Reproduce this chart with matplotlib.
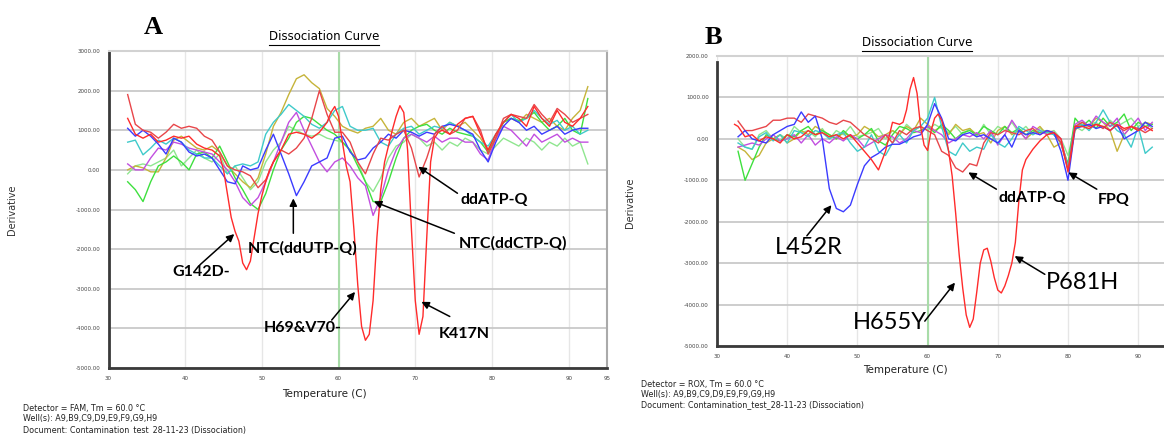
import numpy as np
import matplotlib
matplotlib.use('Agg')
import matplotlib.pyplot as plt
from matplotlib.lines import Line2D

# ---------------- panel A (FAM) ----------------
temp_a = np.arange(32.5, 93, 1.0)

# mutation sample (finer sampling around the dips)
a_mut_t = [32.5, 33.5, 34.5, 35.5, 36.5, 37.5, 38.5, 39.5, 40.5, 41.5, 42.5, 43.5, 44.5,
           45, 45.5, 46, 46.5, 47, 47.5, 48, 48.5, 49, 49.5, 50, 50.5, 51, 51.5, 52, 52.5,
           53.5, 54.5, 55.5, 56.5, 57.5, 58.5,
           59, 59.5, 60, 60.5, 61, 61.5, 62, 62.5, 63, 63.5, 64, 64.5, 65, 65.5, 66, 66.5,
           67, 67.5, 68, 68.5, 69, 69.5, 70, 70.5, 71, 71.5, 72, 72.5, 73, 73.5,
           74.5, 75.5, 76.5, 77.5, 78.5, 79.5, 80.5, 81.5, 82.5, 83.5, 84.5, 85.5, 86.5,
           87.5, 88.5, 89.5, 90.5, 91.5, 92.5]
a_mut_v = [1300, 900, 800, 900, 700, 750, 850, 800, 850, 650, 550, 500, 350,
           0, -600, -1200, -1550, -1800, -2350, -2520, -2300, -1700, -1100, -650, -300, 0, 200, 350, 500,
           900, 950, 900, 800, 950, 1200,
           1450, 1600, 1350, 700, 100, -300, -1500, -2900, -3950, -4300, -4150, -3300, -1700, -500, 200, 600,
           1000, 1350, 1620, 1450, 500, -1500, -3300, -4150, -3700, -1700, 200, 800, 950, 1000,
           900, 1150, 1300, 1350, 900, 500, 900, 1200, 1400, 1300, 1100, 1600, 1300,
           1100, 1500, 1200, 1100, 1300, 1600]

a_red2 = [1900, 1150, 1000, 950, 800, 950, 1150, 1050, 1100, 1050,
          850, 750, 450, 100, 0, -50, -150, -450, -250, 200,
          500, 400, 550, 800, 1300, 2000, 1400, 950, 950, 700,
          200, -100, 400, 800, 750, 900, 1000, 550, -180, 300,
          900, 1100, 900, 1000, 1300, 1350, 1000, 400, 800, 1300,
          1400, 1350, 1300, 1650, 1400, 1200, 1550, 1400, 1200, 1300, 1400]
a_blue = [1050, 850, 1000, 850, 650, 400, 800, 700, 450, 350,
          400, 300, 0, -300, -350, 100, 0, 50, 500, 900,
          400, -100, -650, -300, 100, 200, 300, 800, 850, 450,
          250, 300, 550, 700, 900, 800, 1000, 950, 850, 950,
          900, 1100, 1150, 1100, 1000, 900, 500, 200, 700, 1100,
          1300, 1200, 1000, 1100, 900, 1000, 1100, 900, 1000, 1050, 1050]
a_cyan = [700, 750, 380, 550, 750, 650, 800, 700, 500, 400,
          300, 300, 100, -100, 100, 150, 100, 200, 900, 1200,
          1400, 1650, 1500, 1350, 1150, 1050, 1200, 1500, 1600, 1100,
          1000, 1000, 1050, 700, 600, 900, 1050, 1100, 900, 1000,
          1100, 1050, 1200, 1100, 1000, 850, 700, 600, 900, 1200,
          1400, 1200, 1300, 1500, 1300, 1150, 1250, 1000, 1100, 900, 1000]
a_magenta = [150, 0, 0, 300, 550, 500, 700, 650, 550, 500,
             450, 400, 200, 0, -300, -700, -900, -700, -300, 200,
             700, 1200, 1450, 1000, 600, 200, -50, 200, 300, 100,
             -200, -400, -1150, -700, 0, 500, 800, 900, 800, 700,
             850, 700, 800, 800, 700, 700, 400, 250, 800, 1100,
             1000, 800, 600, 900, 700, 800, 900, 700, 800, 700, 700]
a_green = [-300, -500, -800, -300, 100, 200, 350, 200, 0, 400,
           450, 300, 600, 200, -200, -500, -850, -1000, -600, 0,
           500, 800, 1200, 1350, 1300, 1150, 1000, 900, 700, 500,
           100, -300, -800, -800, -300, 300, 800, 1000, 1100, 1150,
           1000, 900, 1050, 950, 900, 850, 700, 450, 800, 1200,
           1300, 1250, 1300, 1450, 1200, 1000, 1100, 1300, 1000, 900, 1800]
a_lgreen = [-100, 100, 150, 100, 200, 300, 500, 100, 300, 500,
            300, 200, 400, -100, 100, -200, -500, -300, 200, 500,
            700, 1100, 1000, 900, 850, 900, 800, 750, 700, 500,
            200, -300, -550, -200, 300, 600, 700, 900, 800, 600,
            700, 500, 700, 600, 800, 700, 500, 400, 600, 800,
            700, 600, 800, 700, 500, 700, 600, 800, 600, 700, 150]
a_yellow = [0, 100, 50, -50, -50, 300, 750, 850, 700, 550,
            500, 600, 450, 100, -100, -300, -450, -200, 400, 1100,
            1450, 1900, 2300, 2400, 2200, 2050, 1550, 1350, 1100, 1000,
            930, 1050, 1100, 1300, 1000, 900, 1200, 1300, 1100, 1200,
            1300, 1000, 1200, 1100, 1200, 1000, 800, 500, 900, 1200,
            1300, 1200, 1400, 1300, 1200, 1300, 1100, 1000, 1300, 1500, 2100]

# ---------------- panel B (ROX) ----------------
temp_b = np.arange(33, 93, 1.0)

b_mut_t = [32.5, 33, 34, 35, 36, 37, 38, 39, 40, 41, 42, 43, 44, 45, 46, 47, 48, 49, 50,
           51, 52, 53, 54, 55, 56, 56.5, 57, 57.5, 58, 58.5, 59, 59.5, 60, 60.5, 61, 61.5,
           62, 62.5, 63, 63.5, 64, 64.5, 65, 65.5, 66, 66.5, 67, 67.5, 68, 68.5, 69, 69.5,
           70, 70.5, 71, 71.5, 72, 72.5, 73, 73.5, 74, 75, 76, 77, 78, 79, 79.5, 80, 80.5,
           81, 82, 83, 84, 85, 86, 87, 88, 89, 90, 91, 92]
b_mut_v = [350, 300, 50, 100, -50, 50, 0, -100, 100, 0, 50, 200, 100, 150, 50, 100, 0, 100, -100,
           -300, -500, -750, -300, 400, 350, 400, 700, 1200, 1480, 1100, 300, -150, -280, 200, 500, 600,
           450, 150, -300, -900, -1800, -2800, -3600, -4250, -4550, -4350, -3700, -3000, -2680, -2640, -2950, -3350,
           -3650, -3720, -3550, -3300, -3000, -2500, -1500, -750, -500, -250, -50, 100, 150, 0, -400, -800, -300,
           300, 300, 250, 350, 300, 200, 350, 250, 300, 200, 300, 200]

b_red2 = [430, 200, 200, 250, 300, 450, 450, 500, 500, 400,
          600, 550, 500, 400, 350, 450, 400, 250, 100, 0,
          -100, 100, -100, 200, 100, 250, 300, 200, 100, -300,
          -400, -700, -800, -600, -650, -100, 150, 100, 200, 150,
          100, 200, 250, 100, 200, 150, -100, -750, 300, 400,
          300, 350, 250, 400, 300, 200, 300, 250, 150, 250]
b_blue = [50, 200, 0, -50, -100, 100, 200, 300, 350, 650,
          400, 550, 0, -1200, -1680, -1760, -1600, -1100, -650, -450,
          -350, -200, -130, -130, -50, 50, 100, 350, 850, 500,
          0, -50, 100, 150, 50, 100, 0, -100, 100, -200,
          200, 100, 150, 100, 200, 150, -300, -1000, 250, 300,
          350, 250, 300, 200, 350, 0, 100, 200, 400, 300]
b_cyan = [-100, -200, -250, 50, 150, -50, 100, -100, 200, 150,
          50, 200, 150, 0, 100, 150, -100, -300, -200, 100,
          -300, -400, -100, 100, -100, 200, 300, 500, 1000, 300,
          -300, -400, -100, -300, -200, -250, 100, -100, -200, 0,
          300, 200, 100, 200, 150, 100, -100, -700, 300, 350,
          200, 400, 700, 400, 200, 100, -200, 300, -350, -200]
b_magenta = [-200, -150, -100, -150, 0, 100, -50, 0, 100, -100,
             100, -150, 0, -100, 50, -50, 100, 0, -200, -100,
             0, 100, 50, -100, 0, 200, 150, 300, 200, 100,
             -100, 0, 100, 50, 150, 0, 200, -150, 100, 450,
             200, 0, 300, 200, 100, 150, 0, -700, 350, 450,
             300, 550, 400, 300, 500, 100, 300, 500, 200, 400]
b_green = [-300, -1000, -600, -200, 100, 0, -50, 100, 50, 200,
           300, 100, 200, 100, 0, 200, 50, 0, 100, 250,
           -50, -150, 100, 300, 250, 150, 200, 300, 150, 350,
           200, 0, 150, 200, 100, 300, 200, 100, 300, 150,
           250, 100, 200, 150, 200, 100, -100, -600, 500, 300,
           450, 250, 500, 300, 400, 600, 200, 400, 300, 350]
b_lgreen = [0, -200, -250, 100, 200, 0, 100, 0, 300, 150,
            200, 50, 250, 0, 200, 100, 300, 50, 100, 150,
            250, 0, 200, 100, 350, 200, 300, 200, 350, 250,
            150, 300, 100, 250, 50, 350, 100, 300, 200, 400,
            150, 300, 100, 250, 150, 200, 0, -400, 300, 200,
            350, 400, 250, 450, 300, 400, 500, 300, 400, 250]
b_yellow = [-200, -300, -500, -400, -100, 0, 100, -100, 0, 200,
            100, 300, 200, 100, 0, 150, 50, 100, 300, 200,
            50, 100, 200, 100, 300, 200, 500, 350, 200, 300,
            100, 350, 200, 250, 100, 150, -100, 200, 300, 100,
            200, 0, 150, 300, 100, -200, -100, -700, 200, 400,
            300, 500, 400, 200, -300, 100, 300, 200, 400, 350]

RED, RED2 = '#ff2b2b', '#e8464a'
BLUE, CYAN, MAG = '#3b3bff', '#3fcaca', '#c24fe0'
GREEN, LGREEN, YEL = '#3ee03e', '#8fe68f', '#c6b43a'

W, H = 1164, 434
fig = plt.figure(figsize=(W / 100, H / 100), dpi=100)

axA = fig.add_axes([108.5 / W, 1 - 368 / H, (607 - 108.5) / W, (368 - 51) / H])
axB = fig.add_axes([717 / W, 1 - 346 / H, 65 * 7.02 / W, (346 - 56) / H])


def style(ax, ylo, yhi, xt):
    ax.set_xlim(30, 95)
    ax.set_ylim(ylo, yhi)
    ax.set_yticks(np.arange(ylo, yhi + 1, 1000))
    ax.set_yticklabels(['%.2f' % v for v in np.arange(ylo, yhi + 1, 1000)])
    ax.set_xticks(xt)
    ax.tick_params(length=0, labelsize=4, colors='#444444', pad=6)
    ax.grid(axis='y', color='#c9c9c9', lw=1.3)
    ax.grid(axis='x', color='#e6e6e6', lw=1.0)
    ax.set_axisbelow(True)
    for s in ['left', 'bottom']:
        ax.spines[s].set_color('#3a3a3a')
        ax.spines[s].set_linewidth(2)
    ax.spines['top'].set_color('#d2d2d2')
    ax.spines['top'].set_linewidth(1.5)
    ax.spines['right'].set_color('#aaaaaa')
    ax.spines['right'].set_linewidth(1.5)
    ax.axvline(60, color='#a8dca8', lw=1.5, zorder=1)


style(axA, -5000, 3000, [30, 40, 50, 60, 70, 80, 90, 95])
style(axB, -5000, 2000, [30, 40, 50, 60, 70, 80, 90])
axB.spines['left'].set_bounds(-5000, 1850)

lw = 1.0
for ax, t, curves in [
    (axA, temp_a, [(a_lgreen, LGREEN), (a_yellow, YEL), (a_green, GREEN), (a_magenta, MAG),
                   (a_cyan, CYAN), (a_blue, BLUE), (a_red2, RED2)]),
    (axB, temp_b, [(b_lgreen, LGREEN), (b_yellow, YEL), (b_green, GREEN), (b_magenta, MAG),
                   (b_cyan, CYAN), (b_red2, RED2), (b_blue, BLUE)]),
]:
    for vals, c in curves:
        ax.plot(t, vals, color=c, lw=lw, zorder=3)

axA.plot(a_mut_t, a_mut_v, color=RED, lw=lw, zorder=4)
axB.plot(b_mut_t, b_mut_v, color=RED, lw=lw, zorder=4)

# ---------------- annotations ----------------
arrow = dict(arrowstyle='-|>', color='black', lw=1.1, mutation_scale=11, shrinkA=0, shrinkB=0)
bold = dict(family=['Lato', 'DejaVu Sans'], weight='bold', fontsize=11.5, ha='center', va='center', zorder=6)
plain = dict(family=['Lato', 'DejaVu Sans'], fontsize=17, ha='center', va='center', zorder=6)

# (label, text x, text y, tail x, tail y, head x, head y)
notes_a = [
    ('G142D-', 42.1, -2570, 41.9, -2400, 46.4, -1620),
    ('NTC(ddUTP-Q)', 55.3, -1990, 54.1, -1600, 54.1, -720),
    ('H69&V70-', 55.3, -3990, 59.1, -3790, 62.15, -3080),
    ('NTC(ddCTP-Q)', 82.7, -1850, 75.1, -1600, 64.6, -800),
    ('ddATP-Q', 80.3, -760, 75.5, -590, 70.4, 80),
    ('K417N', 76.4, -4130, 74.5, -3700, 70.8, -3330),
]
for lab, tx, ty, ax0, ay0, hx, hy in notes_a:
    axA.annotate('', xy=(hx, hy), xytext=(ax0, ay0), arrowprops=arrow, zorder=6)
    axA.text(tx, ty, lab, **bold)

notes_b = [
    ('L452R', 43.1, -2625, 42.8, -2340, 46.3, -1600, plain),
    ('H655Y', 54.6, -4440, 59.6, -4400, 63.9, -3470, plain),
    ('P681H', 82.1, -3470, 76.7, -3270, 72.4, -2830, plain),
    ('ddATP-Q', 74.9, -1425, 69.8, -1215, 65.8, -810, bold),
    ('FPQ', 86.55, -1470, 84.1, -1215, 80.05, -810, bold),
]
for lab, tx, ty, ax0, ay0, hx, hy, st in notes_b:
    axB.annotate('', xy=(hx, hy), xytext=(ax0, ay0), arrowprops=arrow, zorder=6)
    axB.text(tx, ty, lab, **st)

# ---------------- figure texts ----------------
serif = ['Liberation Serif', 'DejaVu Serif']
fig.text(153 / W, 1 - 27 / H, 'A', family=serif, weight='bold', fontsize=19, ha='center', va='center')
fig.text(713 / W, 1 - 37 / H, 'B', family=serif, weight='bold', fontsize=19, ha='center', va='center')

titles = [fig.text(324 / W, 1 - 37 / H, 'Dissociation Curve', fontsize=8.5, ha='center', va='center'),
          fig.text(917 / W, 1 - 43 / H, 'Dissociation Curve', fontsize=8.5, ha='center', va='center')]

fig.text(12 / W, 1 - 210 / H, 'Derivative', rotation=90, fontsize=7, ha='center', va='center', color='#333333')
fig.text(630 / W, 1 - 203 / H, 'Derivative', rotation=90, fontsize=7, ha='center', va='center', color='#333333')
fig.text(324 / W, 1 - 394 / H, 'Temperature (C)', fontsize=7.5, ha='center', va='center', color='#222222')
fig.text(905 / W, 1 - 370 / H, 'Temperature (C)', fontsize=7.5, ha='center', va='center', color='#222222')

foot_a = ['Detector = FAM, Tm = 60.0 °C', 'Well(s): A9,B9,C9,D9,E9,F9,G9,H9',
          'Document: Contamination_test_28-11-23 (Dissociation)']
foot_b = ['Detector = ROX, Tm = 60.0 °C', 'Well(s): A9,B9,C9,D9,E9,F9,G9,H9',
          'Document: Contamination_test_28-11-23 (Dissociation)']
for i, s in enumerate(foot_a):
    fig.text(23 / W, 1 - (408 + 11 * i) / H, s, fontsize=5.8, va='center', color='#222222')
for i, s in enumerate(foot_b):
    fig.text(641 / W, 1 - (384 + 10.5 * i) / H, s, fontsize=5.8, va='center', color='#222222')

# underline the titles
fig.canvas.draw()
r = fig.canvas.get_renderer()
for t in titles:
    bb = t.get_window_extent(r)
    y = (bb.y0 - 1) / H
    fig.add_artist(Line2D([bb.x0 / W, bb.x1 / W], [y, y], transform=fig.transFigure, color='black', lw=0.8))

fig.savefig('out.png', dpi=100)
